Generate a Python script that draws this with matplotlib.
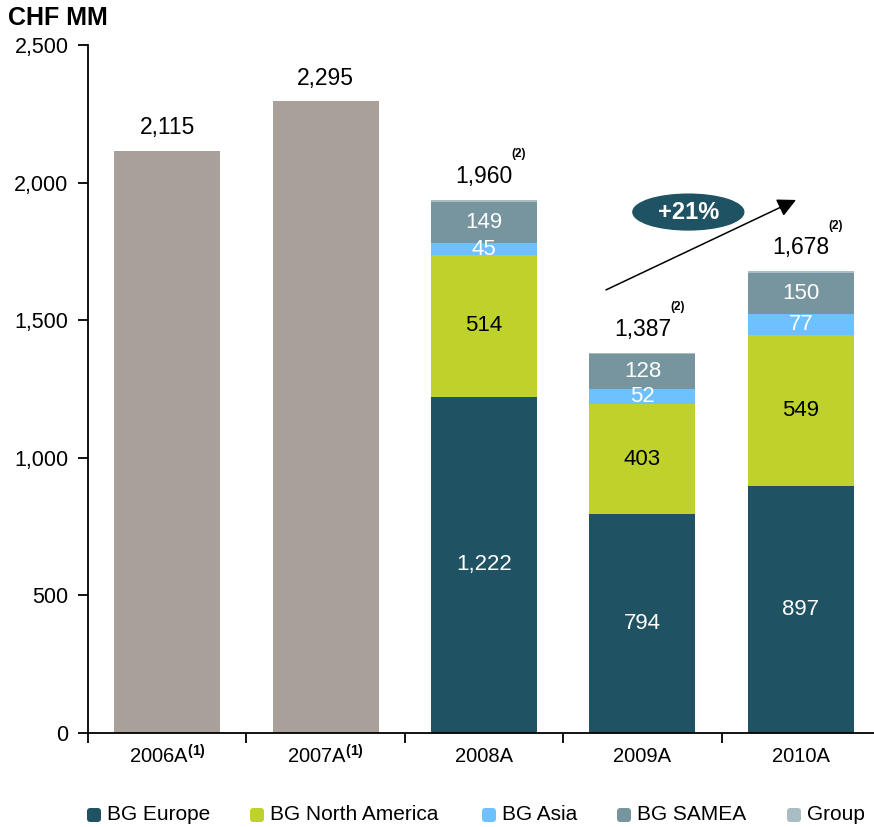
import matplotlib.pyplot as plt
from matplotlib.patches import Ellipse, FancyBboxPatch
import numpy as np

plt.rcParams['font.family'] = ['Liberation Sans', 'DejaVu Sans']
plt.rcParams['mathtext.fontset'] = 'custom'
plt.rcParams['mathtext.rm'] = 'Liberation Sans'
plt.rcParams['mathtext.bf'] = 'Liberation Sans:bold'

years = ['2006A', '2007A', '2008A', '2009A', '2010A']
notes = ['(1)', '(1)', '', '', '']
totals = [2115, 2295, 1960, 1387, 1678]
total_notes = ['', '', '(2)', '(2)', '(2)']

# 2006/07 reported as a single figure, 2008-10 split by business group
single = [2115, 2295, 0, 0, 0]
europe = [0, 0, 1222, 794, 897]
north_america = [0, 0, 514, 403, 549]
asia = [0, 0, 45, 52, 77]
samea = [0, 0, 149, 128, 150]
group = [0, 0, 8, 5, 5]

segments = [
    ('BG Europe', europe, '#1f5263', 'white'),
    ('BG North America', north_america, '#bfd22b', 'black'),
    ('BG Asia', asia, '#6ec1ff', 'white'),
    ('BG SAMEA', samea, '#76959e', 'white'),
    ('Group', group, '#a9bcc4', 'white'),
]

W, H = 874, 827
fig = plt.figure(figsize=(W / 100, H / 100), dpi=100)
ax = fig.add_axes([88 / W, 94 / H, 792 / W, 688 / H])

x = np.arange(len(years))
w = 0.67

ax.bar(x, single, w, color='#a9a099')
bottom = np.zeros(len(years))
for name, vals, col, tcol in segments:
    vals = np.array(vals, dtype=float)
    ax.bar(x, vals, w, bottom=bottom, color=col)
    for i, v in enumerate(vals):
        if v >= 20:
            ax.text(x[i], bottom[i] + v / 2, f'{int(v):,}', ha='center', va='center',
                    fontsize=16, color=tcol)
    bottom += vals

tops = np.maximum(bottom, single)
for i, t in enumerate(totals):
    ax.text(x[i], tops[i] + 85, f'{t:,}', ha='center', va='center', fontsize=16.5)
    if total_notes[i]:
        ax.text(x[i] + 0.22, tops[i] + 165, total_notes[i], ha='center', va='center',
                fontsize=8.5, fontweight='bold')

ax.set_xlim(-0.5, len(years) - 0.5)
ax.set_ylim(0, 2500)
ax.set_yticks(range(0, 2501, 500))
ax.set_yticklabels([f'{v:,}' for v in range(0, 2501, 500)], fontsize=15.5)
ax.set_xticks(np.arange(-0.5, len(years)))
ax.set_xticklabels([])
ax.tick_params(axis='both', direction='out', length=7, width=1.3, pad=7)
for i, (yr, nt) in enumerate(zip(years, notes)):
    lbl = yr + (r'$^{\mathbf{' + nt + '}}$' if nt else '')
    ax.text(x[i], -85, lbl, ha='center', va='center', fontsize=14.5)

for s in ['top', 'right']:
    ax.spines[s].set_visible(False)
for s in ['left', 'bottom']:
    ax.spines[s].set_linewidth(1.3)

# growth arrow 2009 -> 2010
ax.annotate('', xy=(3.97, 1937), xytext=(2.77, 1610),
            arrowprops=dict(arrowstyle='-|>', color='black', lw=1.1,
                            mutation_scale=28, shrinkA=0, shrinkB=0))
ax.add_patch(Ellipse((3.29, 1893), 0.70, 130, color='#1f5263', clip_on=False))
ax.text(3.29, 1893, '+21%', ha='center', va='center', fontsize=17,
        fontweight='bold', color='white')

fig.text(8 / W, 1 - 18 / H, 'CHF MM', fontsize=18, fontweight='bold',
         ha='left', va='center')

# legend row along the bottom
leg_x = [87, 250, 482, 617, 787]
leg_y = 815
sq = 14
for (name, _, col, _), lx in zip(segments, leg_x):
    fig.patches.append(FancyBboxPatch((lx / W, (H - leg_y - sq / 2) / H), sq / W, sq / H,
                                      boxstyle='round,pad=0,rounding_size=0.004',
                                      transform=fig.transFigure, facecolor=col,
                                      edgecolor='none'))
    fig.text((lx + sq + 6) / W, 1 - leg_y / H, name, fontsize=15, ha='left', va='center')

fig.savefig('out.png', dpi=100)
